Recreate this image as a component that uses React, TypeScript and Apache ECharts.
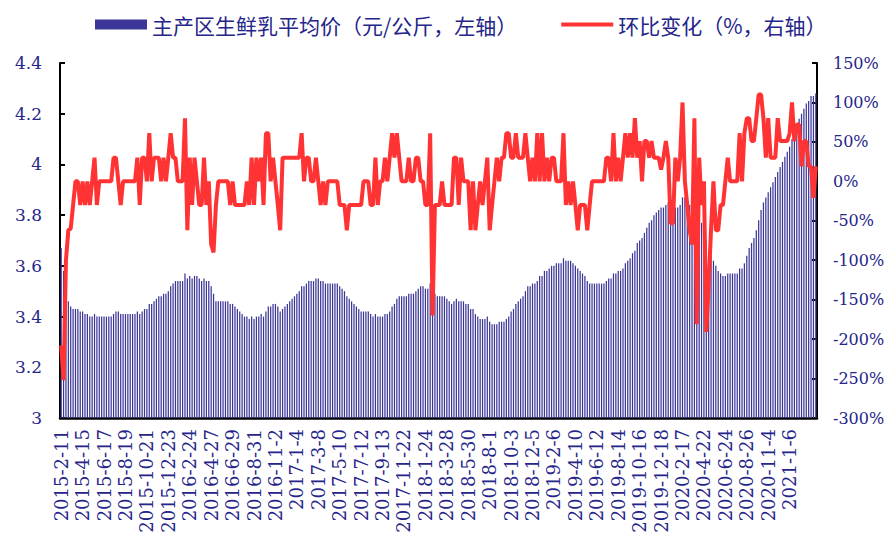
import React, { useEffect, useRef } from "react";
import * as echarts from "echarts";

// Labelled week dates (every 9th category)
const tickDates = [
  "2015-2-11", "2015-4-15", "2015-6-17", "2015-8-19", "2015-10-21", "2015-12-23",
  "2016-2-24", "2016-4-27", "2016-6-29", "2016-8-31", "2016-11-2", "2017-1-4",
  "2017-3-8", "2017-5-10", "2017-7-12", "2017-9-13", "2017-11-22", "2018-1-24",
  "2018-3-28", "2018-5-30", "2018-8-1", "2018-10-3", "2018-12-5", "2019-2-6",
  "2019-4-10", "2019-6-12", "2019-8-14", "2019-10-16", "2019-12-18", "2020-2-17",
  "2020-4-22", "2020-6-24", "2020-8-26", "2020-11-4", "2021-1-6",
];

// 主产区生鲜乳平均价（元/公斤）
const priceData = [
  3.67, 3.58, 3.48, 3.46, 3.44, 3.43, 3.43, 3.43, 3.42, 3.42,
  3.41, 3.41, 3.40, 3.40, 3.41, 3.40, 3.40, 3.40, 3.40, 3.40,
  3.40, 3.40, 3.41, 3.42, 3.42, 3.41, 3.41, 3.41, 3.41, 3.41,
  3.41, 3.41, 3.42, 3.41, 3.42, 3.43, 3.43, 3.45, 3.45, 3.46,
  3.47, 3.48, 3.48, 3.49, 3.49, 3.50, 3.52, 3.53, 3.54, 3.54,
  3.54, 3.54, 3.57, 3.55, 3.56, 3.55, 3.56, 3.56, 3.55, 3.54,
  3.55, 3.54, 3.54, 3.52, 3.49, 3.46, 3.46, 3.46, 3.46, 3.46,
  3.46, 3.45, 3.45, 3.44, 3.43, 3.42, 3.41, 3.40, 3.40, 3.39,
  3.40, 3.39, 3.40, 3.40, 3.41, 3.40, 3.42, 3.44, 3.44, 3.45,
  3.45, 3.44, 3.42, 3.43, 3.44, 3.45, 3.46, 3.47, 3.48, 3.49,
  3.50, 3.52, 3.52, 3.53, 3.54, 3.54, 3.54, 3.55, 3.55, 3.54,
  3.54, 3.53, 3.53, 3.53, 3.53, 3.53, 3.53, 3.52, 3.51, 3.50,
  3.48, 3.47, 3.46, 3.45, 3.44, 3.43, 3.42, 3.42, 3.42, 3.42,
  3.41, 3.40, 3.41, 3.40, 3.40, 3.40, 3.41, 3.41, 3.42, 3.44,
  3.45, 3.47, 3.48, 3.48, 3.48, 3.48, 3.49, 3.49, 3.49, 3.50,
  3.51, 3.52, 3.52, 3.51, 3.51, 3.53, 3.48, 3.49, 3.48, 3.48,
  3.48, 3.48, 3.47, 3.46, 3.45, 3.46, 3.47, 3.46, 3.46, 3.46,
  3.45, 3.45, 3.43, 3.43, 3.41, 3.40, 3.39, 3.39, 3.39, 3.40,
  3.38, 3.37, 3.37, 3.37, 3.38, 3.38, 3.38, 3.39, 3.40, 3.42,
  3.43, 3.45, 3.46, 3.47, 3.48, 3.50, 3.52, 3.52, 3.53, 3.53,
  3.54, 3.56, 3.56, 3.58, 3.58, 3.59, 3.60, 3.60, 3.61, 3.61,
  3.61, 3.63, 3.62, 3.62, 3.62, 3.61, 3.60, 3.59, 3.58, 3.57,
  3.56, 3.54, 3.53, 3.53, 3.53, 3.53, 3.53, 3.53, 3.53, 3.54,
  3.55, 3.55, 3.57, 3.57, 3.58, 3.58, 3.59, 3.61, 3.62, 3.63,
  3.65, 3.66, 3.69, 3.70, 3.71, 3.73, 3.75, 3.77, 3.78, 3.80,
  3.81, 3.82, 3.83, 3.83, 3.84, 3.85, 3.85, 3.85, 3.83, 3.83,
  3.84, 3.87, 3.87, 3.86, 3.84, 3.81, 3.84, 3.77, 3.78, 3.77,
  3.77, 3.70, 3.66, 3.64, 3.62, 3.60, 3.58, 3.57, 3.56, 3.56,
  3.57, 3.57, 3.57, 3.57, 3.57, 3.59, 3.59, 3.61, 3.64, 3.67,
  3.69, 3.71, 3.74, 3.78, 3.82, 3.85, 3.87, 3.89, 3.91, 3.93,
  3.95, 3.97, 3.99, 4.01, 4.03, 4.05, 4.07, 4.10, 4.13, 4.16,
  4.18, 4.20, 4.22, 4.24, 4.25, 4.27, 4.27, 4.28,
];

// 环比变化（%）
const changeData = [
  -208, -252, -100, -62, -60, -30, 0, 0, -30, 0,
  -30, 0, -30, 0, 30, -30, 0, 0, 0, 0,
  0, 0, 30, 30, 0, -30, 0, 0, 0, 0,
  0, 0, 30, -30, 30, 30, 0, 61, 0, 30,
  30, 30, 0, 30, 0, 30, 61, 30, 30, 0,
  0, 0, 80, -62, 30, -30, 30, 0, -30, -30,
  30, -30, 0, -80, -90, -30, 0, 0, 0, 0,
  0, -30, 0, -30, -30, -30, -30, -30, 0, -30,
  30, -30, 30, 0, 30, -30, 61, 61, 0, 30,
  0, -30, -62, 30, 30, 30, 30, 30, 30, 30,
  30, 61, 0, 30, 30, 0, 0, 30, 0, -30,
  0, -30, 0, 0, 0, 0, 0, -30, -30, -30,
  -62, -30, -30, -30, -30, -30, -30, 0, 0, 0,
  -30, -30, 30, -30, 0, 0, 30, 0, 30, 61,
  30, 61, 30, 0, 0, 0, 30, 0, 0, 30,
  30, 0, 0, -30, -30, 61, -170, -30, -30, -30,
  0, -30, -30, -30, -30, 30, 30, -30, 30, 0,
  0, 0, -62, 0, -62, -30, 0, -30, 0, 30,
  -62, -30, 0, 30, 0, 30, 30, 61, 61, 30,
  30, 61, 30, 30, 30, 61, 30, 0, 30, 0,
  61, 0, 61, 0, 30, 0, 30, 30, 0, 0,
  0, 61, -30, 0, -30, 0, -30, -62, -30, -30,
  -30, -62, -30, 0, 0, 0, 0, 0, 0, 30,
  30, 0, 61, 0, 30, 0, 30, 61, 30, 61,
  30, 80, 30, 51, 0, 51, 51, 30, 51, 30,
  30, 30, 15, 30, 51, 30, -53, -53, 30, 0,
  30, 100, 0, -30, -62, -80, 80, -181, 30, -30,
  0, -191, -130, -60, 0, -62, -62, -30, -30, 0,
  30, 0, 0, 0, 0, 61, 0, 61, 80, 80,
  51, 51, 80, 110, 110, 80, 30, 80, 30, 30,
  30, 80, 51, 51, 51, 51, 61, 100, 51, 72,
  72, 19, 51, 51, 19, 19, -21, 19,
];

const barName = "主产区生鲜乳平均价（元/公斤，左轴）";
const lineName = "环比变化（%，右轴）";

// weekly categories: 9 weeks between labelled dates, the rest after the last one
function buildCategories(): string[] {
  const out: string[] = [];
  tickDates.forEach((s, k) => {
    const [y, m, d] = s.split("-").map(Number);
    const base = Date.UTC(y, m - 1, d);
    const steps = k < tickDates.length - 1 ? 9 : priceData.length - out.length;
    for (let j = 0; j < steps; j++) {
      const dt = new Date(base + j * 7 * 86400000);
      out.push(`${dt.getUTCFullYear()}-${dt.getUTCMonth() + 1}-${dt.getUTCDate()}`);
    }
  });
  return out;
}

const NAVY = "#25258A";
const SERIF = '"DejaVu Serif", "Liberation Serif", serif';

export default function App() {
  const ref = useRef<HTMLDivElement>(null);
  useEffect(() => {
    if (!ref.current) return;
    const chart = echarts.init(ref.current, undefined, { renderer: "svg" });
    const categories = buildCategories();
    const lastTickIdx = (tickDates.length - 1) * 9;
    chart.setOption({
      animation: false,
      backgroundColor: "#ffffff",
      legend: {
        top: 9,
        left: 90,
        itemWidth: 52,
        itemHeight: 10,
        itemGap: 44,
        textStyle: { fontSize: 21, color: NAVY, fontFamily: '"Noto Sans CJK SC", sans-serif' },
        data: [
          { name: barName, icon: "rect" },
          { name: lineName, icon: "path://M0,0L52,0L52,4L0,4Z", itemStyle: { color: "#FF3333" } },
        ],
      },
      grid: { left: 60, right: 71, top: 63, bottom: 118 },
      xAxis: {
        type: "category",
        data: categories,
        boundaryGap: true,
        axisLine: { onZero: false, lineStyle: { color: "#000", width: 2.5 } },
        axisTick: { show: false },
        axisLabel: {
          interval: (idx: number) => idx % 9 === 0 && idx <= lastTickIdx,
          rotate: 90,
          fontSize: 18,
          color: NAVY,
          fontFamily: SERIF,
          margin: 11,
        },
      },
      yAxis: [
        {
          type: "value",
          min: 3,
          max: 4.4,
          interval: 0.2,
          startValue: 3,
          axisLine: { show: true, lineStyle: { color: "#000", width: 2 } },
          axisTick: { show: true, inside: true, length: 5, lineStyle: { color: "#000", width: 2 } },
          splitLine: { show: false },
          axisLabel: { fontSize: 17, color: NAVY, fontFamily: SERIF, margin: 18 },
        },
        {
          type: "value",
          position: "right",
          min: -300,
          max: 150,
          interval: 50,
          axisLine: { show: true, lineStyle: { color: "#000", width: 2 } },
          axisTick: { show: true, inside: true, length: 5, lineStyle: { color: "#000", width: 2 } },
          splitLine: { show: false },
          axisLabel: { fontSize: 16, color: NAVY, fontFamily: SERIF, margin: 16, formatter: "{value}%" },
        },
      ],
      series: [
        {
          name: barName,
          type: "bar",
          yAxisIndex: 0,
          data: priceData,
          barWidth: "52%",
          clip: true,
          itemStyle: { color: "#3B3597" },
        },
        {
          name: lineName,
          type: "line",
          yAxisIndex: 1,
          data: changeData,
          symbol: "none",
          lineStyle: { color: "#FF3333", width: 4 },
          itemStyle: { color: "#FF3333" },
        },
      ],
    });
    return () => chart.dispose();
  }, []);
  return (
    <div
      ref={ref}
      style={{ position: "absolute", left: 0, top: 0, width: 888, height: 536 }}
    />
  );
}
